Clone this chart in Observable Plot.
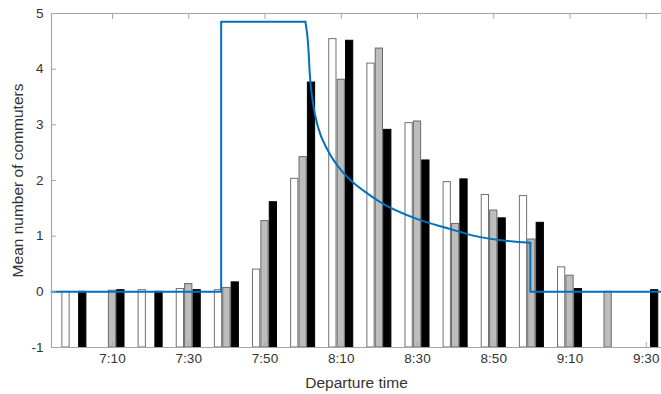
<!DOCTYPE html>
<html>
<head>
<meta charset="utf-8">
<script src="https://cdn.jsdelivr.net/npm/d3@7"></script>
<script src="https://cdn.jsdelivr.net/npm/@observablehq/plot@0.6"></script>
<style>
  html, body { margin: 0; padding: 0; background: #fff; }
</style>
</head>
<body>
<div id="chart"></div>
<script>
// ---- data ----
const groupTimes = ["7:00","7:10","7:20","7:30","7:40","7:50","8:00","8:10","8:20","8:30","8:40","8:50","9:00","9:10","9:20","9:30"];
const whiteValues = [0, null, 0.03, 0.05, 0.03, 0.40, 2.03, 4.54, 4.10, 3.03, 1.97, 1.74, 1.72, 0.44, null, null];
const grayValues  = [null, 0.02, null, 0.14, 0.07, 1.27, 2.42, 3.81, 4.37, 3.06, 1.22, 1.46, 0.94, 0.29, 0, null];
const blackValues = [0, 0.03, 0, 0.03, 0.17, 1.61, 3.76, 4.51, 2.91, 2.36, 2.02, 1.32, 1.24, 0.05, null, 0.03];

const xTickLabels = ["7:10","7:30","7:50","8:10","8:30","8:50","9:10","9:30"];
const yTickValues = [-1, 0, 1, 2, 3, 4, 5];
const xRange = ["6:54", "9:34"];
const xTitle = "Departure time";
const yTitle = "Mean number of commuters";

// model curve (blue): step segments and decaying segment
const stepTimes1 = ["6:54", "7:38.5", "7:38.5", "8:00.6"];
const stepValues1 = [0, 0, 4.85, 4.85];
const decayTimes = ["8:00.6","8:01.3","8:01.8","8:02.6","8:03.9","8:06.5","8:10","8:13.5","8:17","8:21","8:29.8","8:38.5","8:44.6","8:59.6"];
const decayValues = [4.85, 4.46, 3.86, 3.38, 2.96, 2.54, 2.18, 1.94, 1.76, 1.58, 1.31, 1.13, 1.01, 0.88];
const stepTimes2 = ["8:59.6", "8:59.6", "9:34"];
const stepValues2 = [0.88, 0, 0];

// ---- helpers ----
const toMin = s => { const [h, m] = s.split(":"); return +h * 60 + +m; };
const fmt = m => { const h = Math.floor(m / 60); const mm = Math.round(m - h * 60); return h + ":" + String(mm).padStart(2, "0"); };

const series = [
  {name: "a", values: whiteValues, fill: "#ffffff", stroke: "#707070", offset: -2.2},
  {name: "b", values: grayValues,  fill: "#bdbdbd", stroke: "#6a6a6a", offset: 0},
  {name: "c", values: blackValues, fill: "#000000", stroke: "#000000", offset: 2.2}
];
const barW = 1.9;
const bars = [];
series.forEach(s => groupTimes.forEach((t, i) => {
  const v = s.values[i];
  if (v == null) return;
  bars.push({t: toMin(t) + s.offset, v, fill: s.fill, stroke: s.stroke});
}));

const line1 = stepTimes1.map((t, i) => ({t: toMin(t), v: stepValues1[i]}));
const line2 = decayTimes.map((t, i) => ({t: toMin(t), v: decayValues[i]}));
const line3 = stepTimes2.map((t, i) => ({t: toMin(t), v: stepValues2[i]}));

const xDomain = xRange.map(toMin);
const xTicks = xTickLabels.map(toMin);
const axisColor = "#a6a6a6";
const blue = "#0072BD";

const chart = Plot.plot({
  width: 661,
  height: 394,
  marginLeft: 51,
  marginRight: 0,
  marginTop: 13,
  marginBottom: 47,
  style: {fontFamily: "'Liberation Sans', Arial, sans-serif", fontSize: "13px", color: "#333", background: "#fff"},
  x: {domain: xDomain},
  y: {domain: [-1, 5]},
  marks: [
    Plot.rect(bars, {
      x1: d => d.t - barW / 2, x2: d => d.t + barW / 2,
      y1: -1, y2: "v",
      fill: d => d.fill, stroke: d => d.stroke, strokeWidth: 1
    }),
    Plot.line(line1, {x: "t", y: "v", stroke: blue, strokeWidth: 2}),
    Plot.line(line2, {x: "t", y: "v", stroke: blue, strokeWidth: 2, curve: "monotone-x"}),
    Plot.line(line3, {x: "t", y: "v", stroke: blue, strokeWidth: 2}),
    Plot.ruleY([-1, 5], {stroke: axisColor, strokeWidth: 1.2}),
    Plot.ruleX([xDomain[0]], {stroke: axisColor, strokeWidth: 1.2}),
    // x axis: labels
    Plot.axisX({ticks: xTicks, tickFormat: fmt, tickSize: 0, tickPadding: 6, label: null, fontSize: 13.5, stroke: null}),
    Plot.text([xTitle], {frameAnchor: "bottom", dy: 40, fontSize: 15.5, text: d => d, fill: "#333"}),
    // x axis inward ticks bottom and top
    Plot.axisX({ticks: xTicks, tickFormat: () => "", tickSize: -5, stroke: axisColor, label: null}),
    Plot.axisX({anchor: "top", ticks: xTicks, tickFormat: () => "", tickSize: -5, stroke: axisColor, label: null}),
    // y axis labels
    Plot.axisY({ticks: yTickValues, tickFormat: d => String(d), tickSize: 0, tickPadding: 8, label: null, fontSize: 13.5}),
    Plot.text([yTitle], {frameAnchor: "left", dx: -33, rotate: -90, textAnchor: "middle", fontSize: 15.5, text: d => d, fill: "#333"}),
    Plot.axisY({ticks: yTickValues, tickFormat: () => "", tickSize: -5, stroke: axisColor, label: null})
  ]
});
document.getElementById("chart").appendChild(chart);
</script>
</body>
</html>
